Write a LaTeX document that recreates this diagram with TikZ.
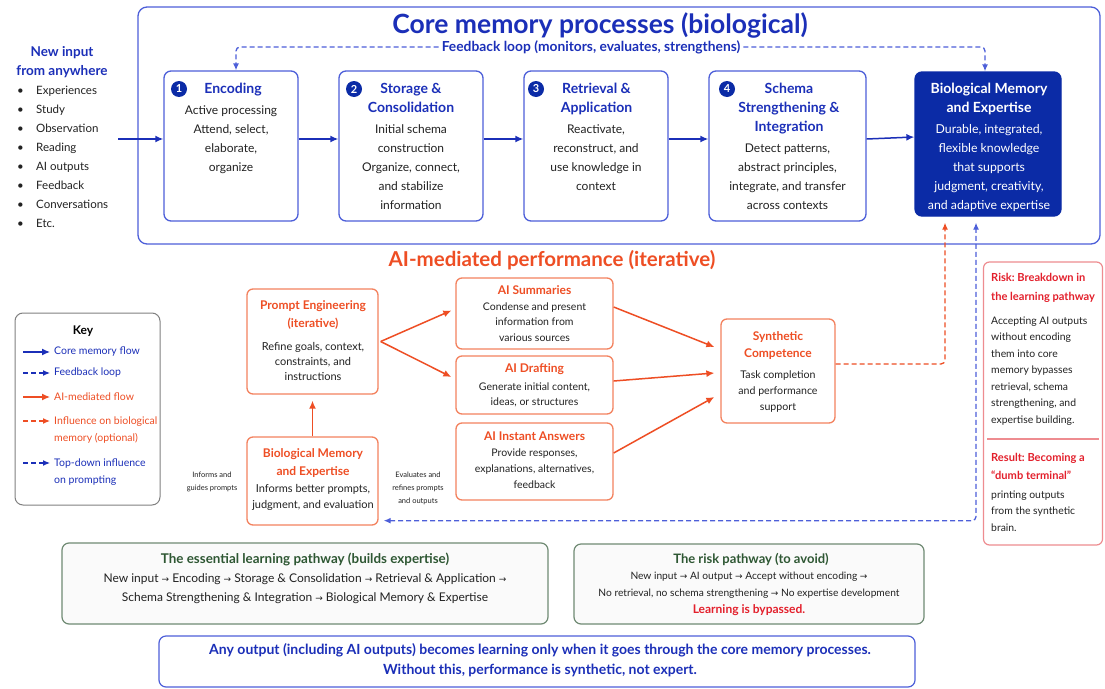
\documentclass[tikz,border=0pt]{standalone}
\usepackage{fontspec}
\setmainfont{Lato}
\newfontfamily\arrowfont{DejaVu Sans}
\usetikzlibrary{arrows.meta,positioning}
\definecolor{coreblue}{HTML}{1B2FB8}
\definecolor{coreline}{HTML}{4D5FD9}
\definecolor{deepblue}{HTML}{0B2BA6}
\definecolor{aiorange}{HTML}{EE4E24}
\definecolor{ailine}{HTML}{F3825E}
\definecolor{riskred}{HTML}{E3202C}
\definecolor{riskline}{HTML}{EE8C90}
\definecolor{pathgreen}{HTML}{2E5733}
\definecolor{pathline}{HTML}{6F8A73}
\definecolor{keygray}{HTML}{808080}
\definecolor{bodytext}{HTML}{222222}
\newcommand{\rarr}{{\arrowfont\small →}}
\frenchspacing

\begin{document}
\begin{tikzpicture}[x=1pt, y=-1pt,
  corebox/.style={draw=coreline, line width=1.3pt, rounded corners=7pt, inner sep=0pt},
  aibox/.style={draw=ailine, line width=1.3pt, rounded corners=6pt, inner sep=0pt},
  numdot/.style={circle, fill=deepblue, text=white, inner sep=0pt, minimum size=16pt, font=\bfseries\fontsize{11}{12}\selectfont},
  boxtitle/.style={align=center, inner sep=0pt, anchor=north, text=coreblue, font=\bfseries\fontsize{14}{19}\selectfont},
  boxbody/.style={align=center, inner sep=0pt, anchor=north, text=bodytext, font=\fontsize{12}{19}\selectfont},
  aititle/.style={boxtitle, text=aiorange, font=\bfseries\fontsize{12}{18}\selectfont},
  aibody/.style={boxbody, font=\fontsize{10.5}{15.5}\selectfont},
  keytext/.style={inner sep=0pt, font=\fontsize{10.5}{17}\selectfont},
  coreflow/.style={draw=coreblue, line width=1.5pt, -{Latex[length=8pt,width=7pt]}},
  feedflow/.style={draw=coreline, line width=1.3pt, dash pattern=on 5pt off 3pt, rounded corners=4pt, -{Latex[length=7pt,width=6pt]}},
  aiflow/.style={draw=aiorange, line width=1.5pt, -{Latex[length=8pt,width=7pt]}},
  aidash/.style={draw=aiorange, line width=1.3pt, dash pattern=on 5pt off 3pt, rounded corners=4pt, -{Latex[length=7pt,width=6pt]}}]

\fill[white] (0,0) rectangle (1105,688);
\useasboundingbox (0,0) rectangle (1105,688);

% core memory processes
\node (CoreFrame) [corebox, rounded corners=9pt, minimum width=962pt, minimum height=237pt] at (619,125.5) {};
\node (CoreTitle) [anchor=base, text=coreblue, font=\bfseries\fontsize{26.5}{30}\selectfont] at (600,33) {Core memory processes (biological)};
\node (FeedbackLabel) [text=coreblue, inner sep=3pt, font=\bfseries\fontsize{13.8}{16}\selectfont] at (591,47) {Feedback loop (monitors, evaluates, strengthens)};

\node (NewInput) [boxtitle, text=coreblue, font=\bfseries\fontsize{13.5}{19}\selectfont] at (62,46.2) {New input\\from anywhere};
\node (InputList) [anchor=north west, align=left, inner sep=0pt, text=bodytext, font=\fontsize{11.5}{19}\selectfont] at (17,86.1)
  {\makebox[19pt][l]{•}Experiences\\\makebox[19pt][l]{•}Study\\\makebox[19pt][l]{•}Observation\\\makebox[19pt][l]{•}Reading\\\makebox[19pt][l]{•}AI outputs\\\makebox[19pt][l]{•}Feedback\\\makebox[19pt][l]{•}Conversations\\\makebox[19pt][l]{•}Etc.};
\coordinate (InputTail) at (118,139);

\node (Encoding) [corebox, minimum width=134pt, minimum height=150pt] at (231,146) {};
\node (NumOne) [numdot] at (179,89) {1};
\node (EncodingTitle) [boxtitle] at (233,83) {Encoding};
\node (EncodingBody) [boxbody] at (231,105.8) {Active processing\\Attend, select,\\elaborate,\\organize};

\node (Storage) [corebox, minimum width=144pt, minimum height=150pt] at (411,146) {};
\node (NumTwo) [numdot] at (354,89) {2};
\node (StorageTitle) [boxtitle] at (411,83) {Storage \&\\Consolidation};
\node (StorageBody) [boxbody] at (411,124.8) {Initial schema\\construction\\Organize, connect,\\and stabilize\\information};

\node (Retrieval) [corebox, minimum width=144pt, minimum height=150pt] at (596,146) {};
\node (NumThree) [numdot] at (536,89) {3};
\node (RetrievalTitle) [boxtitle] at (596.5,83) {Retrieval \&\\Application};
\node (RetrievalBody) [boxbody] at (596,124.8) {Reactivate,\\reconstruct, and\\use knowledge in\\context};

\node (Schema) [corebox, minimum width=157pt, minimum height=150pt] at (787.5,146) {};
\node (NumFour) [numdot] at (727,89) {4};
\node (SchemaTitle) [boxtitle] at (789,83) {Schema\\Strengthening \&\\Integration};
\node (SchemaBody) [boxbody] at (787.5,143.8) {Detect patterns,\\abstract principles,\\integrate, and transfer\\across contexts};

\node (BioCore) [corebox, draw=deepblue, fill=deepblue, minimum width=146pt, minimum height=144pt] at (988,144) {};
\node (BioCoreTitle) [boxtitle, text=white] at (989,83) {Biological Memory\\and Expertise};
\node (BioCoreBody) [boxbody, text=white, font=\fontsize{12.3}{19}\selectfont] at (989,124.7) {Durable, integrated,\\flexible knowledge\\that supports\\judgment, creativity,\\and adaptive expertise};

\draw [coreflow] (InputTail) -- ([yshift=7pt]Encoding.west);
\draw [coreflow] ([yshift=7pt]Encoding.east) -- ([yshift=7pt]Storage.west);
\draw [coreflow] ([yshift=7pt]Storage.east) -- ([yshift=7pt]Retrieval.west);
\draw [coreflow] ([yshift=7pt]Retrieval.east) -- ([yshift=7pt]Schema.west);
\draw [coreflow] ([yshift=7pt]Schema.east) -- ([yshift=7pt]BioCore.west);
\draw [feedflow] (FeedbackLabel.west) -| ([xshift=5pt]Encoding.north);
\draw [feedflow] (FeedbackLabel.east) -| ([xshift=-3pt]BioCore.north);

% AI-mediated performance
\node (AITitle) [anchor=base, text=aiorange, font=\bfseries\fontsize{20.5}{24}\selectfont] at (552,266.5) {AI-mediated performance (iterative)};

\node (PromptEng) [aibox, minimum width=131pt, minimum height=105pt] at (312.5,341.5) {};
\node (PromptEngTitle) [aititle] at (313,300.8) {Prompt Engineering\\(iterative)};
\node (PromptEngBody) [aibody, font=\fontsize{11}{15}\selectfont] at (313,342.3) {Refine goals, context,\\constraints, and\\instructions};

\node (BioPrompt) [aibox, minimum width=131pt, minimum height=88pt] at (312.5,481) {};
\node (BioPromptTitle) [aititle] at (313,448) {Biological Memory\\and Expertise};
\node (BioPromptBody) [aibody, font=\fontsize{11}{16}\selectfont] at (313,484.3) {Informs better prompts,\\judgment, and evaluation};

\node (InformsNote) [boxbody, font=\fontsize{7.5}{13}\selectfont] at (212,471.8) {Informs and\\guides prompts};
\node (EvaluatesNote) [boxbody, font=\fontsize{7.5}{13}\selectfont] at (418,471.8) {Evaluates and\\refines prompts\\and outputs};

\node (Summaries) [aibox, minimum width=157pt, minimum height=71pt] at (534.5,313.5) {};
\node (SummariesTitle) [aititle] at (534.5,285.8) {AI Summaries};
\node (SummariesBody) [aibody] at (534.5,302.5) {Condense and present\\information from\\various sources};

\node (Drafting) [aibox, minimum width=157pt, minimum height=58pt] at (534.5,385) {};
\node (DraftingTitle) [aititle] at (534.5,363.8) {AI Drafting};
\node (DraftingBody) [aibody, font=\fontsize{10.5}{15}\selectfont] at (534.5,382.5) {Generate initial content,\\ideas, or structures};

\node (Instant) [aibox, minimum width=157pt, minimum height=77pt] at (534.5,461.5) {};
\node (InstantTitle) [aititle] at (534.5,431.8) {AI Instant Answers};
\node (InstantBody) [aibody, font=\fontsize{10.5}{16}\selectfont] at (534.5,448.5) {Provide responses,\\explanations, alternatives,\\feedback};

\node (Synthetic) [aibox, minimum width=114pt, minimum height=104pt] at (778,371) {};
\node (SyntheticTitle) [aititle, font=\bfseries\fontsize{12}{17}\selectfont] at (778,331.8) {Synthetic\\Competence};
\node (SyntheticBody) [aibody, font=\fontsize{10.6}{16}\selectfont] at (778,370.4) {Task completion\\and performance\\support};

\draw [aiflow] (BioPrompt.north) -- ([yshift=-6pt]PromptEng.south);
\draw [aiflow] ([xshift=2pt]PromptEng.east) -- ([shift={(-4pt,3pt)}]Summaries.west);
\draw [aiflow] ([xshift=2pt]PromptEng.east) -- ([shift={(-4pt,8pt)}]Drafting.west);
\draw [aiflow] ([yshift=6.5pt]Summaries.east) -- ([shift={(-6pt,24pt)}]Synthetic.west);
\draw [aiflow] ([yshift=4pt]Drafting.east) -- ([shift={(-6pt,-2pt)}]Synthetic.west);
\draw [aiflow] ([yshift=8.5pt]Instant.east) -- ([shift={(-6pt,-26pt)}]Synthetic.west);
\draw [aidash] ([yshift=7pt]Synthetic.east) -| ([shift={(-43pt,-6pt)}]BioCore.south);
\draw [feedflow, {Latex[length=7pt,width=6pt]}-{Latex[length=7pt,width=6pt]}] ([shift={(5pt,5pt)}]BioPrompt.south east) -| ([shift={(-12pt,-6pt)}]BioCore.south);

% key
\node (KeyBox) [draw=keygray, line width=1pt, rounded corners=8pt, minimum width=145pt, minimum height=192pt] at (87.5,409) {};
\node (KeyTitle) [anchor=north, inner sep=0pt, font=\bfseries\fontsize{12}{14}\selectfont] at (83,325.8) {Key};
\node (KeyCore) [keytext, anchor=west, text=coreblue] at (54,352) {Core memory flow};
\node (KeyFeedback) [keytext, anchor=west, text=coreblue] at (54,373) {Feedback loop};
\node (KeyAI) [keytext, anchor=west, text=aiorange] at (54,397) {AI-mediated flow};
\node (KeyInfluence) [keytext, anchor=north west, align=left, text=aiorange] at (54,416.5) {Influence on biological\\memory (optional)};
\node (KeyTopDown) [keytext, anchor=north west, align=left, text=coreblue] at (54,458.5) {Top-down influence\\on prompting};
\draw [coreflow, line width=1.2pt] ([xshift=-31pt]KeyCore.west) -- ([xshift=-4pt]KeyCore.west);
\draw [feedflow, draw=coreblue, line width=1.2pt] ([xshift=-31pt]KeyFeedback.west) -- ([xshift=-4pt]KeyFeedback.west);
\draw [aiflow, line width=1.2pt] ([xshift=-31pt]KeyAI.west) -- ([xshift=-4pt]KeyAI.west);
\draw [aidash, line width=1.2pt] ([shift={(-31pt,-4.5pt)}]KeyInfluence.north west) -- ([shift={(-4pt,-4.5pt)}]KeyInfluence.north west);
\draw [feedflow, draw=coreblue, line width=1.2pt] ([shift={(-31pt,-4.5pt)}]KeyTopDown.north west) -- ([shift={(-4pt,-4.5pt)}]KeyTopDown.north west);

% risk panel
\node (RiskBox) [draw=riskline, line width=1.2pt, rounded corners=6pt, minimum width=119pt, minimum height=283pt] at (1043,403.5) {};
\node (RiskTitle) [anchor=north west, align=left, inner sep=0pt, text=riskred, font=\bfseries\fontsize{11.1}{19}\selectfont] at (991,273.2) {Risk: Breakdown in\\the learning pathway};
\node (RiskBody) [anchor=north west, align=left, inner sep=0pt, text=bodytext, font=\fontsize{10.4}{16.5}\selectfont] at (991,316.5) {Accepting AI outputs\\without encoding\\them into core\\memory bypasses\\retrieval, schema\\strengthening, and\\expertise building.};
\draw [riskline, line width=1.2pt] (987,439) -- (1099,439);
\node (ResultTitle) [anchor=north west, align=left, inner sep=0pt, text=riskred, font=\bfseries\fontsize{11.1}{18}\selectfont] at (991,453.2) {Result: Becoming a\\“dumb terminal”};
\node (ResultBody) [anchor=north west, align=left, inner sep=0pt, text=bodytext, font=\fontsize{10.4}{16.5}\selectfont] at (991,490.5) {printing outputs\\from the synthetic\\brain.};

% pathways
\node (Essential) [draw=pathline, fill=black!2, line width=1.2pt, rounded corners=7pt, minimum width=486pt, minimum height=81pt] at (305,583.5) {};
\node (EssentialTitle) [boxtitle, text=pathgreen, font=\bfseries\fontsize{13.4}{19}\selectfont] at (305,553.2) {The essential learning pathway (builds expertise)};
\node (EssentialBody) [boxbody, font=\fontsize{12}{19}\selectfont] at (305,573.8) {New input \rarr\ Encoding \rarr\ Storage \& Consolidation \rarr\ Retrieval \& Application \rarr\\Schema Strengthening \& Integration \rarr\ Biological Memory \& Expertise};

\node (RiskPath) [draw=pathline, fill=black!2, line width=1.2pt, rounded corners=7pt, minimum width=350pt, minimum height=80pt] at (749,584) {};
\node (RiskPathTitle) [boxtitle, text=pathgreen, font=\bfseries\fontsize{13}{19}\selectfont] at (751,553.4) {The risk pathway (to avoid)};
\node (RiskPathBody) [boxbody, font=\fontsize{10.2}{17}\selectfont] at (749,571.6) {New input \rarr\ AI output \rarr\ Accept without encoding \rarr\\No retrieval, no schema strengthening \rarr\ No expertise development};
\node (RiskPathNote) [boxbody, text=riskred, font=\bfseries\fontsize{12}{14}\selectfont] at (749,604.8) {Learning is bypassed.};

\node (Conclusion) [draw=coreline, line width=1.2pt, rounded corners=7pt, minimum width=756pt, minimum height=51pt] at (537,661.5) {};
\node (ConclusionText) [boxtitle, font=\bfseries\fontsize{14}{20}\selectfont] at (540,643) {Any output (including AI outputs) becomes learning only when it goes through the core memory processes.\\Without this, performance is synthetic, not expert.};
\end{tikzpicture}
\end{document}
